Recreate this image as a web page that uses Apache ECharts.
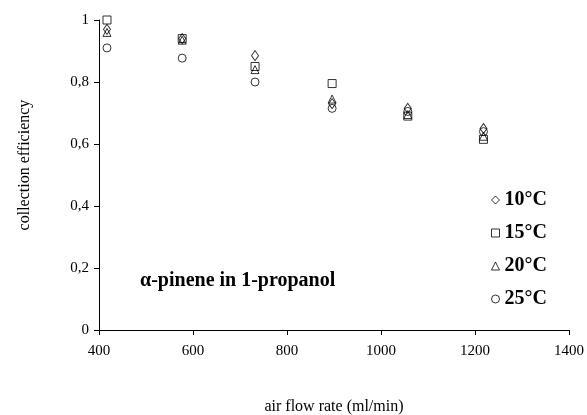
<!DOCTYPE html>
<html>
<head>
<meta charset="utf-8">
<script src="https://cdn.jsdelivr.net/npm/echarts@6/dist/echarts.min.js"></script>
<style>
  html, body { margin: 0; padding: 0; background: #fff; }
  #chart { width: 587px; height: 415px; }
</style>
</head>
<body>
<div id="chart"></div>
<script>
// air flow rate (ml/min)
const flowRates = [417, 577, 732, 896, 1057, 1218];

// collection efficiency per temperature
const eff10 = [0.97, 0.94, 0.885, 0.73, 0.715, 0.65];
const eff15 = [1.0, 0.94, 0.85, 0.795, 0.69, 0.615];
const eff20 = [0.96, 0.935, 0.84, 0.745, 0.695, 0.625];
const eff25 = [0.91, 0.877, 0.80, 0.715, 0.705, 0.64];

const seriesNames = ['10°C', '15°C', '20°C', '25°C'];
const seriesSymbols = ['diamond', 'rect', 'triangle', 'circle'];

const FONT = '"Liberation Serif", "Times New Roman", serif';

const toPoints = vals => vals.map((v, i) => [flowRates[i], v]);

const chart = echarts.init(document.getElementById('chart'));

const allData = [eff10, eff15, eff20, eff25];

chart.setOption({
  animation: false,
  backgroundColor: '#fff',
  grid: { left: 99, right: 18, top: 20, bottom: 85, outerBoundsMode: 'none', containLabel: false },
  xAxis: {
    type: 'value',
    min: 400,
    max: 1400,
    interval: 200,
    name: 'air flow rate (ml/min)',
    nameLocation: 'middle',
    nameGap: 69,
    nameTextStyle: { fontFamily: FONT, fontSize: 16, color: '#000' },
    axisLine: { show: true, onZero: false, lineStyle: { color: '#000', width: 1 } },
    axisTick: { show: true, inside: false, length: 5, lineStyle: { color: '#000' } },
    axisLabel: { fontFamily: FONT, fontSize: 15, color: '#000', margin: 14, formatter: v => String(v) },
    splitLine: { show: false }
  },
  yAxis: {
    type: 'value',
    min: 0,
    max: 1,
    interval: 0.2,
    name: 'collection efficiency',
    nameLocation: 'middle',
    nameGap: 66,
    nameTextStyle: { fontFamily: FONT, fontSize: 16, color: '#000', padding: [0, 0, 0, 20] },
    axisLine: { show: true, lineStyle: { color: '#000', width: 1 } },
    axisTick: { show: true, length: 5, lineStyle: { color: '#000' } },
    axisLabel: {
      fontFamily: FONT,
      fontSize: 15,
      color: '#000',
      margin: 10,
      formatter: v => String(Math.round(v * 10) / 10).replace('.', ',')
    },
    splitLine: { show: false }
  },
  legend: {
    orient: 'vertical',
    left: 486,
    top: 185,
    itemWidth: 8,
    itemHeight: 8,
    itemGap: 13,
    itemStyle: { color: '#fff', borderColor: '#000', borderWidth: 1 },
    textStyle: { fontFamily: FONT, fontSize: 20, fontWeight: 'bold', color: '#000' },
    data: seriesNames.map((n, i) => ({ name: n, icon: seriesSymbols[i] }))
  },
  graphic: [{
    type: 'text',
    left: 140,
    top: 271,
    style: {
      text: 'α-pinene in 1-propanol',
      font: 'bold 20px ' + FONT,
      fill: '#000'
    }
  }],
  series: seriesNames.map((n, i) => ({
    name: n,
    type: 'scatter',
    symbol: seriesSymbols[i],
    symbolSize: i === 0 ? [7, 10] : 8,
    itemStyle: { color: 'rgba(255,255,255,0)', borderColor: '#000', borderWidth: 1 },
    data: toPoints(allData[i])
  }))
});
</script>
</body>
</html>
